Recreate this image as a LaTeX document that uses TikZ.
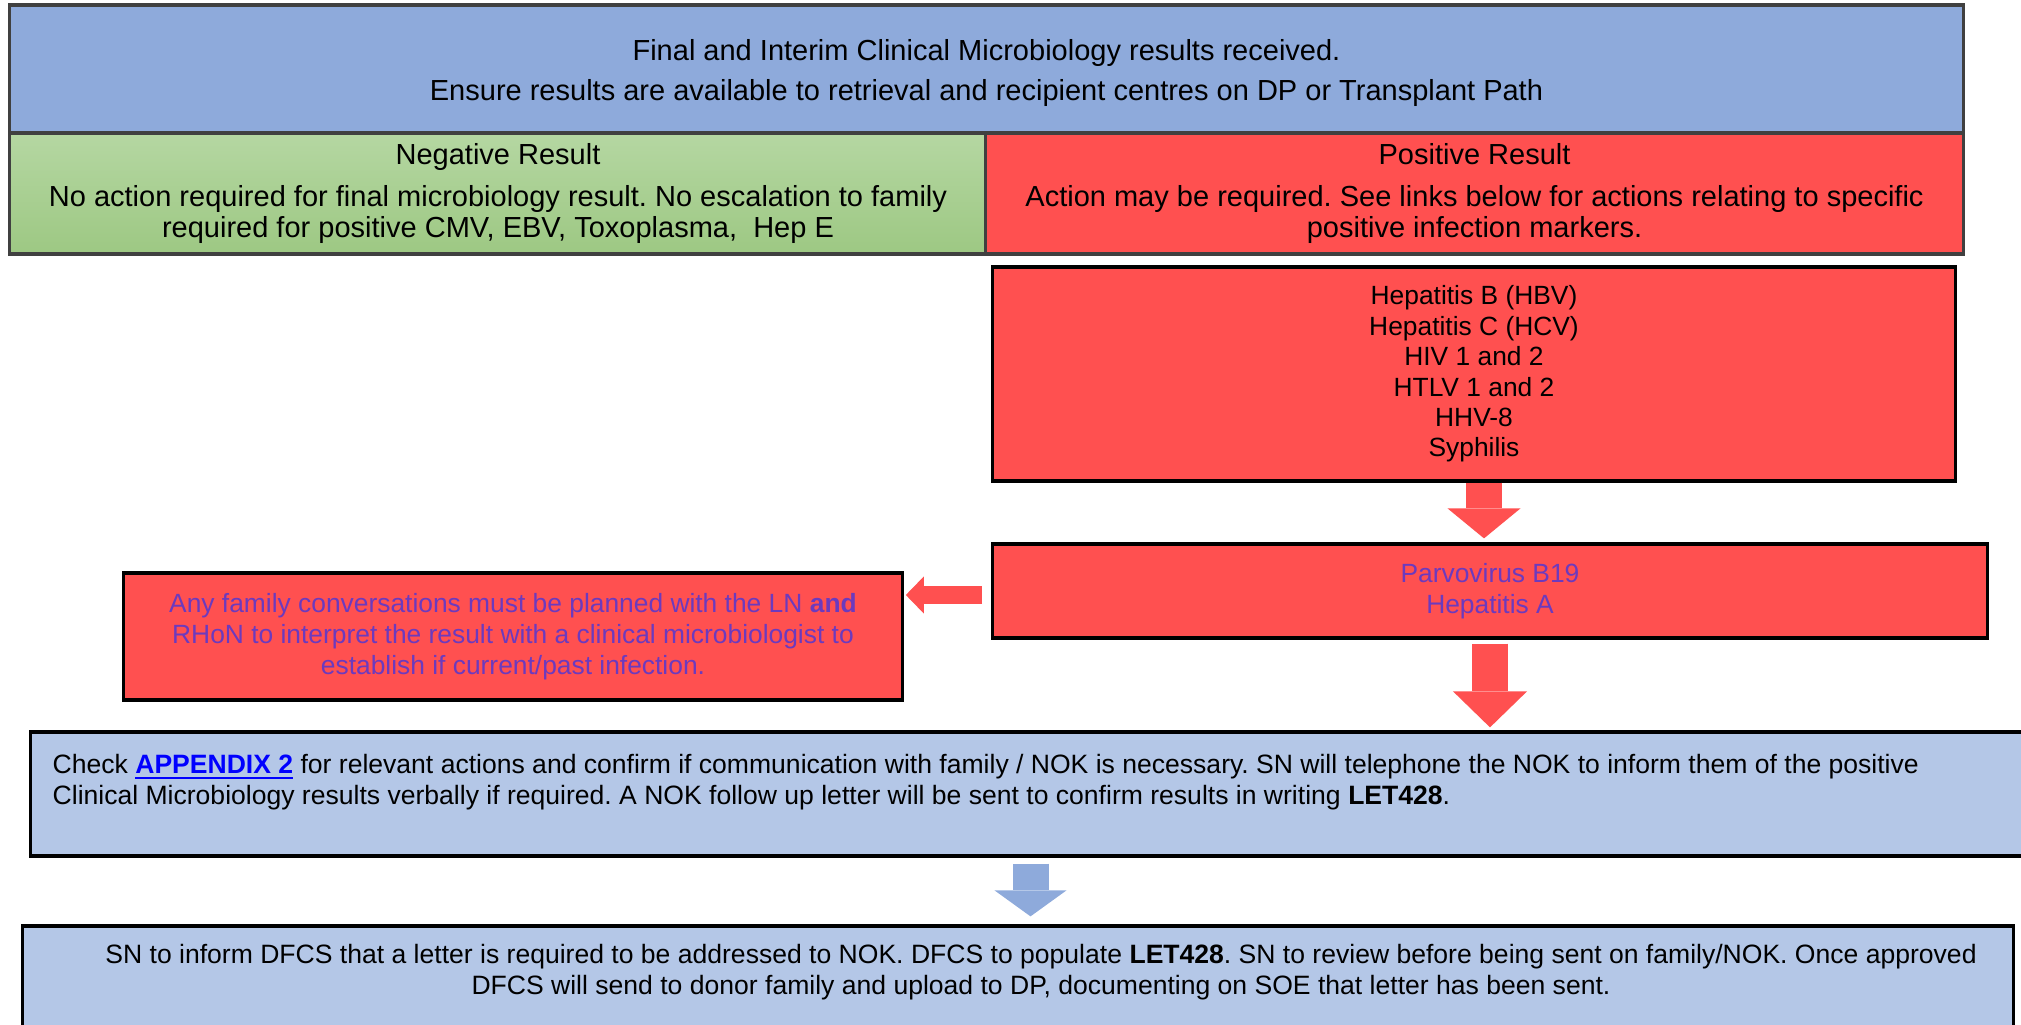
\documentclass[tikz,border=0pt]{standalone}
\usepackage{fontspec}
\setmainfont{Liberation Sans}
\frenchspacing
\usetikzlibrary{arrows.meta}
\usetikzlibrary{positioning}

\definecolor{hdrblue}{HTML}{8EAADB}
\definecolor{paleblue}{HTML}{B4C7E7}
\definecolor{posred}{HTML}{FF5050}
\definecolor{greentop}{RGB}{181,215,162}
\definecolor{greenbot}{RGB}{157,200,131}
\definecolor{purpletxt}{RGB}{108,58,190}
\definecolor{linkblue}{HTML}{0000FF}

\begin{document}
\begin{tikzpicture}[x=0.01cm, y=-0.01cm,
    box/.style={draw=black, line width=0.9pt, rectangle, inner sep=0pt, align=center,
      font=\fontsize{7.5}{8.8}\selectfont},
    redbox/.style={box, fill=posred},
    bluebox/.style={box, fill=paleblue},
    topbox/.style={box, draw=black!75, font=\fontsize{8.25}{8.8}\selectfont},
    txt/.style={inner sep=0pt, font=\fontsize{7.55}{8.9}\selectfont},
    bigarrow/.style={line width=0.36cm, -{Triangle[width=0.73cm, length=0.3cm, line width=0pt]}}]
      \clip (0, 0) rectangle (2021, 1025);

      % header and the two result columns
      \node [topbox, fill=hdrblue, minimum width=19.53cm, minimum height=1.28cm,
        font=\fontsize{8.25}{11.6}\selectfont] (head) at (986.5, 69) {};
      \node [txt, align=center, font=\fontsize{8.25}{11.6}\selectfont] (headtxt) at (986.5, 73)
        {Final and Interim Clinical Microbiology results received.\\
         Ensure results are available to retrieval and recipient centres on DP or Transplant Path};
      \node [topbox, top color=greentop, bottom color=greenbot,
        minimum width=9.76cm, minimum height=1.21cm] (neg) at (498, 193.5)
        {Negative Result\\[3.2pt]
         No action required for final microbiology result. No escalation to family\\
         required for positive CMV, EBV, Toxoplasma,\ \ Hep E};
      \node [topbox, fill=posred, minimum width=9.77cm, minimum height=1.21cm] (pos) at (1474.5, 193.5)
        {Positive Result\\[3.2pt]
         Action may be required. See links below for actions relating to specific\\
         positive infection markers.};

      % positive markers
      \node [redbox, minimum width=9.62cm, minimum height=2.14cm, font=\fontsize{7.5}{8.66}\selectfont] (markers) at (1474, 374)
        {Hepatitis B (HBV)\\ Hepatitis C (HCV)\\ HIV 1 and 2\\ HTLV 1 and 2\\ HHV-8\\ Syphilis};
      \node [redbox, minimum width=9.94cm, minimum height=0.94cm, text=purpletxt] (parvo) at (1490, 591)
        {Parvovirus B19\\ Hepatitis A};
      \node [redbox, minimum width=7.78cm, minimum height=1.27cm, text=purpletxt] (famconv) at (513, 636.5)
        {Any family conversations must be planned with the LN \textbf{and}\\
         RHoN to interpret the result with a clinical microbiologist to\\
         establish if current/past infection.};

      % next of kin boxes
      \node [bluebox, minimum width=19.99cm, minimum height=1.24cm] (check) at (1030.5, 794) {};
      \node [txt, anchor=west, align=left] (checktxt) at (52, 782)
        {Check \textcolor{linkblue}{\underline{\textbf{APPENDIX 2}}} for relevant actions and confirm if communication with family / NOK is necessary. SN will telephone the NOK to inform them of the positive\\
         Clinical Microbiology results verbally if required. A NOK follow up letter will be sent to confirm results in writing \textbf{LET428}.};
      \node [bluebox, minimum width=19.90cm, minimum height=1.24cm] (letter) at (1018, 988) {};
      \node [txt, align=center] (lettertxt) at (1041, 972)
        {SN to inform DFCS that a letter is required to be addressed to NOK. DFCS to populate \textbf{LET428}. SN to review before being sent on family/NOK. Once approved\\
         DFCS will send to donor family and upload to DP, documenting on SOE that letter has been sent.};

      % block arrows
      \coordinate (a1) at ([xshift=0.1cm]markers.south);
      \draw [bigarrow, posred, shorten >=0.04cm] (a1) -- (a1 |- parvo.north);
      \draw [bigarrow, posred, -{Triangle[width=0.74cm, length=0.36cm, line width=0pt]},
        shorten <=0.04cm, shorten >=0.03cm] (parvo.south) -- (parvo.south |- check.north);
      \coordinate (a3) at ([yshift=-0.04cm]parvo.west);
      \draw [posred, line width=0.18cm, -{Triangle[width=0.37cm, length=0.18cm, line width=0pt]},
        shorten <=0.09cm, shorten >=0.02cm] (a3) -- (a3 -| famconv.east);
      \draw [bigarrow, hdrblue, -{Triangle[width=0.72cm, length=0.26cm, line width=0pt]},
        shorten <=0.06cm, shorten >=0.08cm] (check.south) -- (check.south |- letter.north);
    \end{tikzpicture}
\end{document}
